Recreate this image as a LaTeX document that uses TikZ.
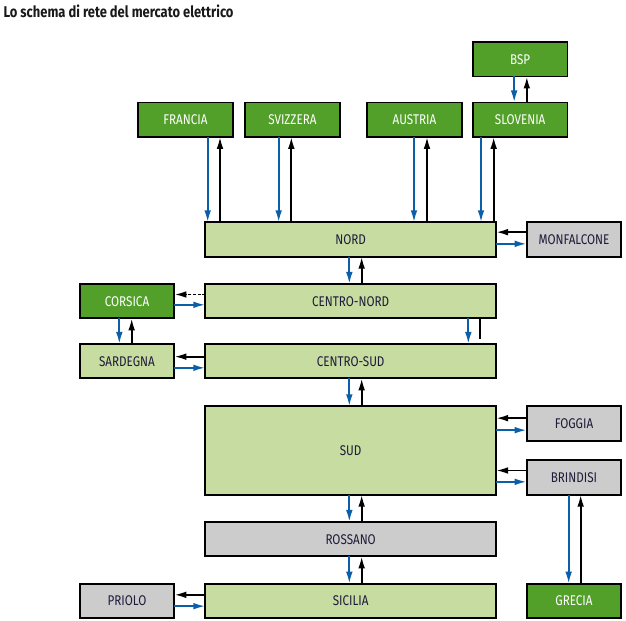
\documentclass[tikz,border=0pt]{standalone}
\usepackage{fontspec}
\setmainfont{Fira Sans}[FakeStretch=0.83]
\usepackage{tikz}
\usetikzlibrary{positioning,arrows.meta,calc}

\definecolor{darkgr}{HTML}{52A02A}
\definecolor{palegr}{HTML}{C6DCA0}
\definecolor{zonegray}{HTML}{CCCCCC}
\definecolor{flowblue}{HTML}{0A5FA8}
\definecolor{labelink}{HTML}{1F1B3A}

\begin{document}
\begin{tikzpicture}[
    zone/.style={draw, line width=1.6pt, outer sep=0pt, inner sep=0pt, minimum height=1.03cm, font=\fontsize{12}{14}\selectfont, text=labelink},
    mainbox/.style={zone, fill=palegr, minimum width=8.72cm},
    graybox/.style={zone, fill=zonegray, minimum width=2.84cm},
    greenbox/.style={zone, fill=darkgr, text=white, minimum width=2.84cm},
    palebox/.style={zone, fill=palegr, minimum width=2.84cm},
    flow/.style={-{Latex[length=3.6mm,width=2mm]}, line width=1.6pt, flowblue},
    back/.style={-{Latex[length=3.6mm,width=2mm]}, line width=1.6pt, black},
  ]

  \useasboundingbox (0,0) rectangle (18.78,-18.63);

  \node[anchor=base west, inner sep=0pt, font=\bfseries\fontsize{13.3}{15}\selectfont, text=black!90] (title) at (0.1,-0.52) {Lo schema di rete del mercato elettrico};

  \node[mainbox] (nord) at (10.52,-7.185) {NORD};
  \node[mainbox] (cnord) [below=.82cm of nord] {CENTRO-NORD};
  \node[mainbox] (csud) [below=.77cm of cnord] {CENTRO-SUD};
  \node[mainbox, minimum height=2.65cm] (sud) [below=.84cm of csud] {SUD};
  \node[mainbox, fill=zonegray] (ross) [below=.82cm of sud] {ROSSANO};
  \node[mainbox] (sic) [below=.82cm of ross] {SICILIA};

  \node[greenbox] (fra) at (5.565,-3.59) {FRANCIA};
  \node[greenbox] (svi) [right=.37cm of fra] {SVIZZERA};
  \node[greenbox] (aut) [right=.82cm of svi] {AUSTRIA};
  \node[greenbox] (slo) [right=.33cm of aut] {SLOVENIA};
  \node[greenbox] (bsp) [above=.78cm of slo] {BSP};

  \node[greenbox] (cors) [left=.93cm of cnord] {CORSICA};
  \node[palebox] (sard) [left=.93cm of csud] {SARDEGNA};
  \node[graybox] (priolo) [left=.93cm of sic] {PRIOLO};

  \node[graybox] (monf) [right=.92cm of nord] {MONFALCONE};
  \node[graybox] (foggia) [right=.92cm of sud.north east, anchor=north west] {FOGGIA};
  \node[graybox] (brin) [right=.92cm of sud.south east, anchor=south west] {BRINDISI};
  \node[greenbox] (grecia) [right=.92cm of sic] {GRECIA};

  \coordinate (fr1) at ([xshift=.07cm]nord.north west);
  \coordinate (fr2) at ([xshift=.44cm]nord.north west);
  \coordinate (sv1) at ([xshift=2.2cm]nord.north west);
  \coordinate (sv2) at ([xshift=2.58cm]nord.north west);
  \coordinate (au1) at ([xshift=6.26cm]nord.north west);
  \coordinate (au2) at ([xshift=6.65cm]nord.north west);
  \coordinate (sl1) at ([xshift=8.27cm]nord.north west);
  \coordinate (sl2) at ([xshift=8.65cm]nord.north west);

  \draw[flow] (fr1 |- fra.south) -- (fr1);
  \draw[back] (fr2) -- (fr2 |- fra.south);
  \draw[flow] (sv1 |- svi.south) -- (sv1);
  \draw[back] (sv2) -- (sv2 |- svi.south);
  \draw[flow] (au1 |- aut.south) -- (au1);
  \draw[back] (au2) -- (au2 |- aut.south);
  \draw[flow] (sl1 |- slo.south) -- (sl1);
  \draw[back] (sl2) -- (sl2 |- slo.south);

  \draw[flow] ([xshift=-.18cm]bsp.south) -- ([xshift=-.18cm]slo.north);
  \draw[back] ([xshift=.2cm]slo.north) -- ([xshift=.2cm]bsp.south);

  \draw[back] ([yshift=.22cm]monf.west) -- ([yshift=.22cm]nord.east);
  \draw[flow] ([yshift=-.13cm]nord.east) -- ([yshift=-.13cm]monf.west);

  \draw[flow] ([xshift=-.04cm]nord.south) -- ([xshift=-.04cm]cnord.north);
  \draw[back] ([xshift=.33cm]cnord.north) -- ([xshift=.33cm]nord.south);

  \draw[back, dash pattern=on 2.5pt off 1.5pt] ([yshift=.2cm]cnord.west) -- ([yshift=.2cm]cors.east);
  \draw[flow] ([yshift=-.11cm]cors.east) -- ([yshift=-.11cm]cnord.west);

  \draw[flow] ([xshift=-.23cm]cors.south) -- ([xshift=-.23cm]sard.north);
  \draw[back] ([xshift=.14cm]sard.north) -- ([xshift=.14cm]cors.south);

  \draw[flow] ([xshift=3.53cm]cnord.south) -- ([xshift=3.53cm]csud.north);
  \draw[line width=1.6pt] ([xshift=3.88cm]cnord.south) -- ([xshift=3.88cm,yshift=.14cm]csud.north);

  \draw[back] ([yshift=.135cm]csud.west) -- ([yshift=.135cm]sard.east);
  \draw[flow] ([yshift=-.2cm]sard.east) -- ([yshift=-.2cm]csud.west);

  \draw[flow] ([xshift=-.04cm]csud.south) -- ([xshift=-.04cm]sud.north);
  \draw[back] ([xshift=.33cm]sud.north) -- ([xshift=.33cm]csud.south);

  \coordinate (fg1) at ([yshift=.16cm]foggia.west);
  \coordinate (fg2) at ([yshift=-.2cm]foggia.west);
  \draw[back] (fg1) -- (fg1 -| sud.east);
  \draw[flow] (fg2 -| sud.east) -- (fg2);

  \coordinate (br1) at ([yshift=.21cm]brin.west);
  \coordinate (br2) at ([yshift=-.13cm]brin.west);
  \draw[back] (br1) -- (br1 -| sud.east);
  \draw[flow] (br2 -| sud.east) -- (br2);

  \draw[flow] ([xshift=-.16cm]brin.south) -- ([xshift=-.16cm]grecia.north);
  \draw[back] ([xshift=.2cm]grecia.north) -- ([xshift=.2cm]brin.south);

  \draw[flow] ([xshift=-.04cm]sud.south) -- ([xshift=-.04cm]ross.north);
  \draw[back] ([xshift=.33cm]ross.north) -- ([xshift=.33cm]sud.south);

  \draw[flow] ([xshift=-.04cm]ross.south) -- ([xshift=-.04cm]sic.north);
  \draw[back] ([xshift=.33cm]sic.north) -- ([xshift=.33cm]ross.south);

  \draw[back] ([yshift=.18cm]sic.west) -- ([yshift=.18cm]priolo.east);
  \draw[flow] ([yshift=-.16cm]priolo.east) -- ([yshift=-.16cm]sic.west);

\end{tikzpicture}
\end{document}
